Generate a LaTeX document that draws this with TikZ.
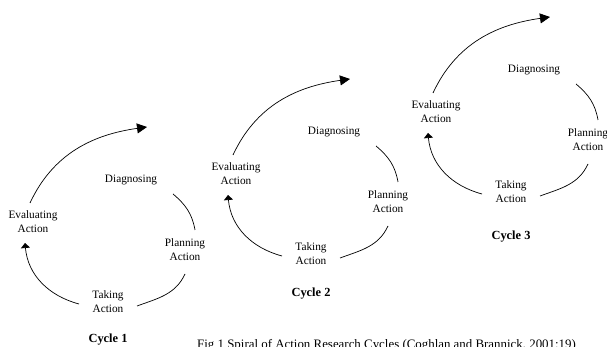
\documentclass[tikz,border=0pt]{standalone}
\usepackage{fontspec}
\setmainfont{Liberation Serif}
\usetikzlibrary{positioning,arrows.meta}

\tikzset{
  stage/.style={align=center, inner sep=2pt, font=\fontsize{11.3}{13.8}\selectfont},
  turn/.style={line width=0.7pt},
}

\begin{document}
\begin{tikzpicture}[x=1pt, y=1pt, on grid]
  \useasboundingbox (0,0) rectangle (607,347);
  \foreach \n/\x/\y/\d in {1/33/125/38, 2/236/173/40, 3/436/235/45}{
    \node[stage] (eval\n) at (\x,\y) {Evaluating\\Action};
    \node[stage] (diag\n) [above right=42pt and 98pt of eval\n] {Diagnosing};
    \node[stage] (plan\n) [below right=28pt and 152pt of eval\n] {Planning\\Action};
    \node[stage] (take\n) [below right=80pt and 75pt of eval\n] {Taking\\Action};
    \node[font=\fontsize{12.4}{14}\selectfont\bfseries] (cycle\n) [below=\d pt of take\n] {Cycle \n};
    \coordinate (next\n) at ([xshift=114pt,yshift=95pt]eval\n.center);
    \draw[turn,-{Triangle[length=10pt,width=10pt]}] ([xshift=-3pt,yshift=19pt]eval\n.center) to[out=65,in=188] (next\n);
    \draw[turn] ([xshift=42pt,yshift=-14pt]diag\n.center) to[out=-40,in=100] ([xshift=10pt,yshift=20pt]plan\n.center);
    \draw[turn] ([yshift=-24pt]plan\n.center) to[out=-115,in=20] ([xshift=29pt,yshift=-4pt]take\n.center);
    \draw[turn,-{Triangle[length=5pt,width=9pt]}] ([xshift=-29pt,yshift=-2pt]take\n.center) to[out=165,in=-85] ([xshift=-8pt,yshift=-21pt]eval\n.center);
  }
  \node[anchor=base west, inner sep=0pt, font=\fontsize{12.9}{15}\selectfont] (caption) at (197,-1.5) {Fig 1 Spiral of Action Research Cycles (Coghlan and Brannick, 2001:19)};
\end{tikzpicture}
\end{document}
